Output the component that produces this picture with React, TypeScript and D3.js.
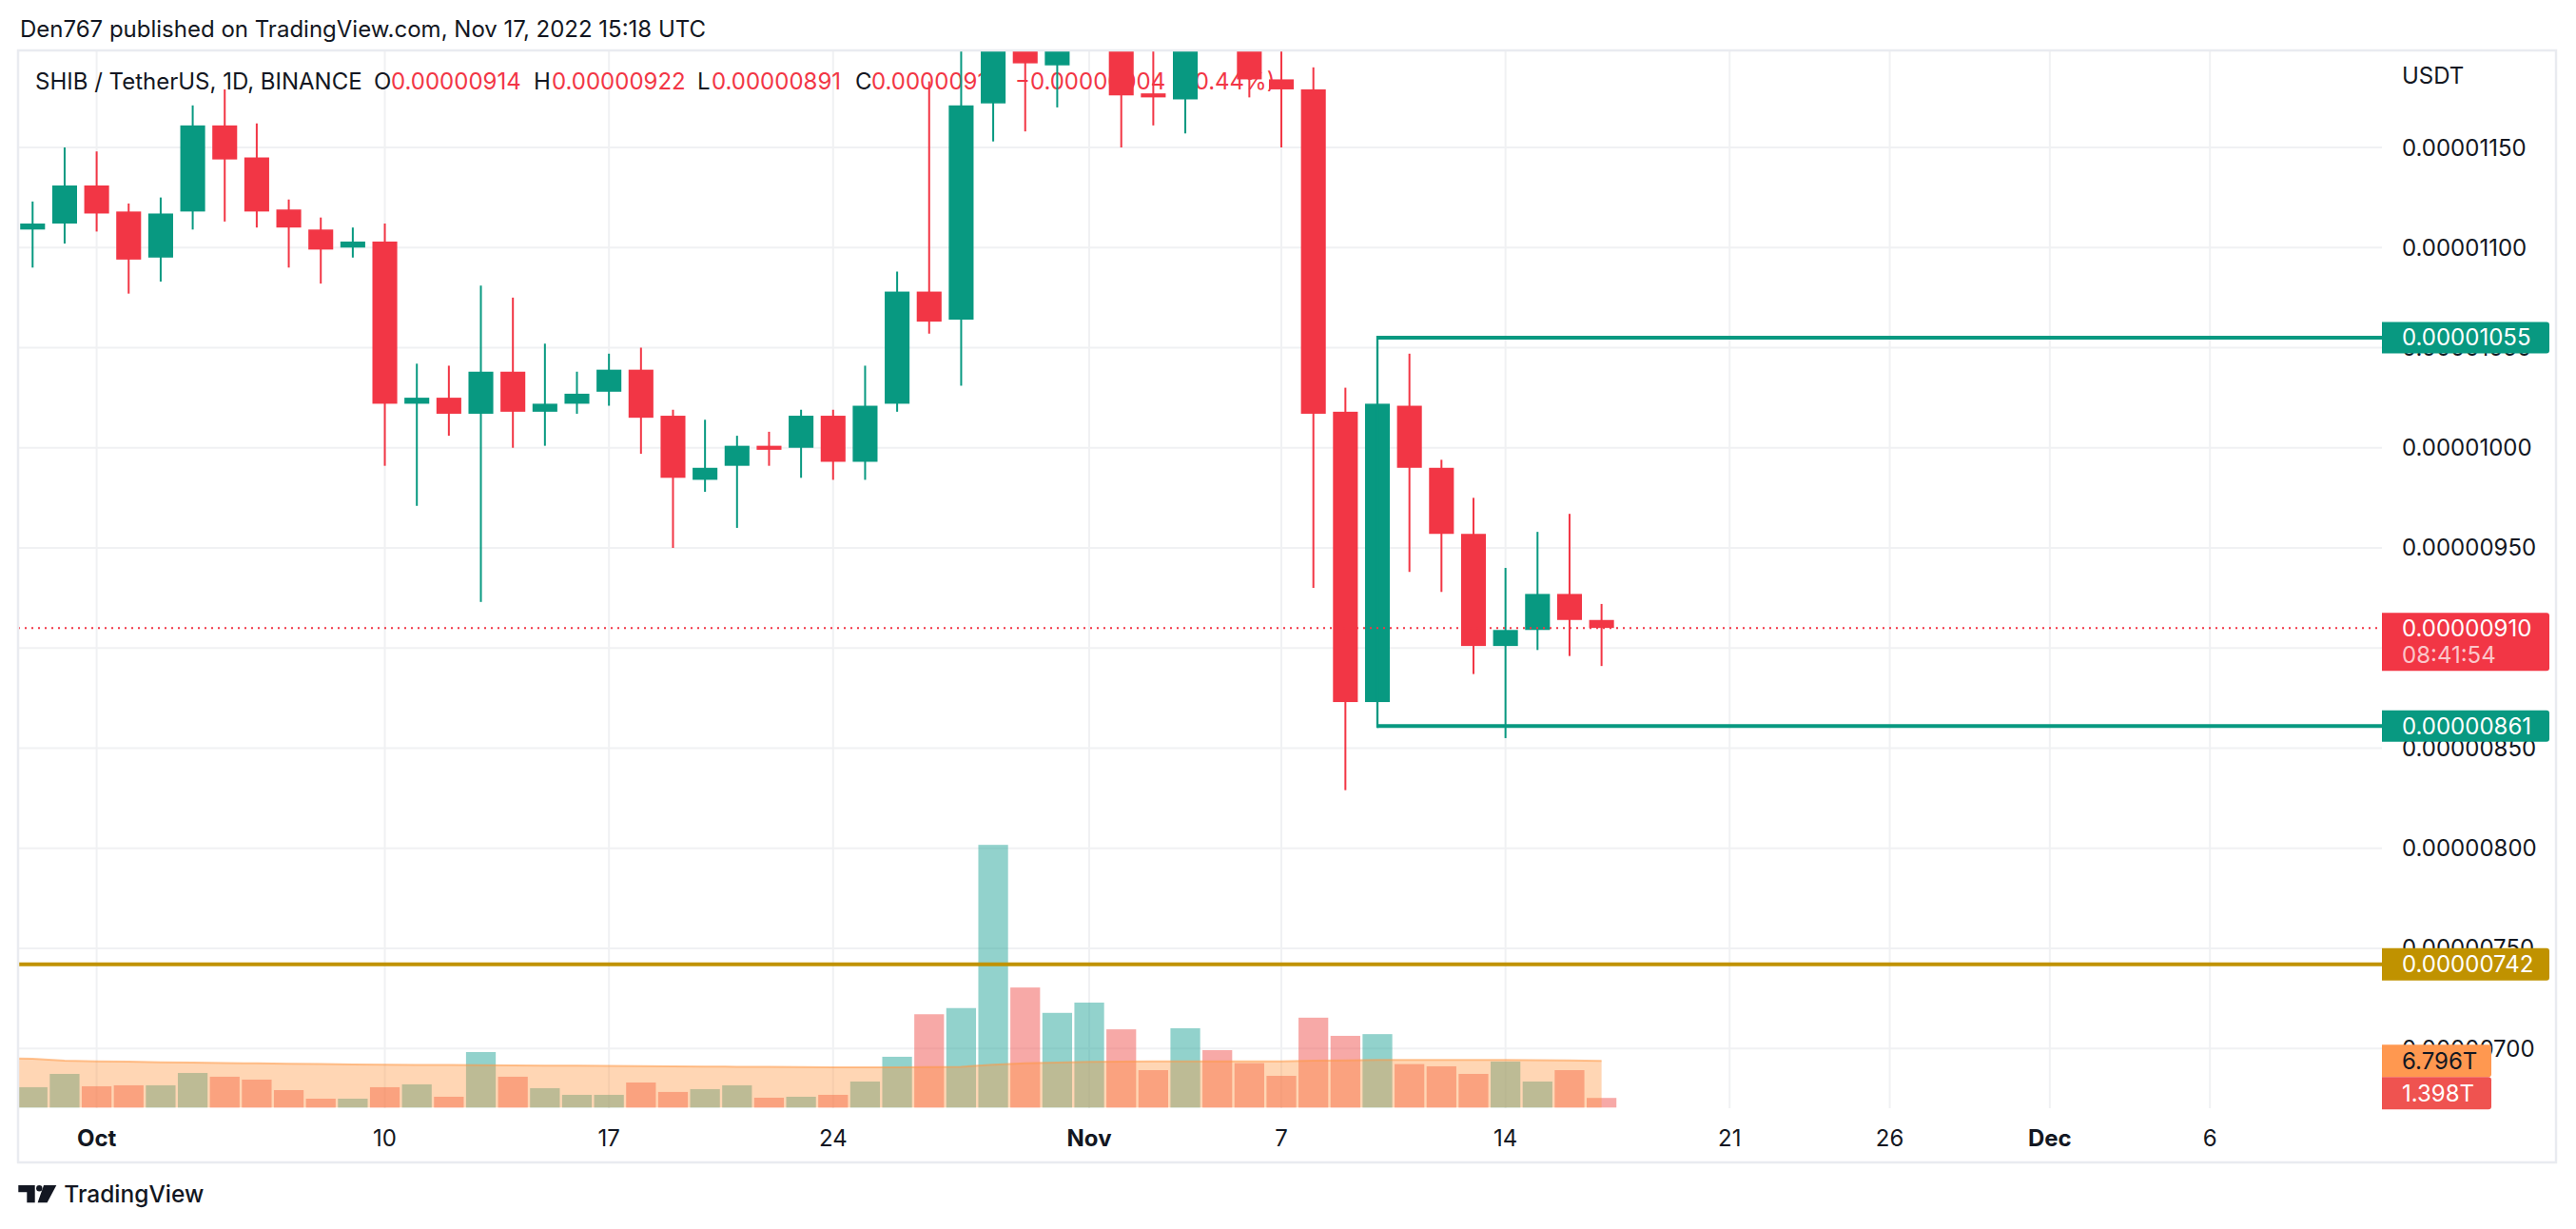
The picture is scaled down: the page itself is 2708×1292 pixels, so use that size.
import React from 'react';
import * as d3 from 'd3';

// ---------- DATA ----------
const PRICE_UNIT = 1e-8; // prices below are in 0.00000001 USDT

const candleDates = [
  '2022-09-29', '2022-09-30',
  '2022-10-01', '2022-10-02', '2022-10-03', '2022-10-04', '2022-10-05', '2022-10-06', '2022-10-07', '2022-10-08',
  '2022-10-09', '2022-10-10', '2022-10-11', '2022-10-12', '2022-10-13', '2022-10-14', '2022-10-15', '2022-10-16',
  '2022-10-17', '2022-10-18', '2022-10-19', '2022-10-20', '2022-10-21', '2022-10-22', '2022-10-23', '2022-10-24',
  '2022-10-25', '2022-10-26', '2022-10-27', '2022-10-28', '2022-10-29', '2022-10-30', '2022-10-31',
  '2022-11-01', '2022-11-02', '2022-11-03', '2022-11-04', '2022-11-05', '2022-11-06', '2022-11-07', '2022-11-08',
  '2022-11-09', '2022-11-10', '2022-11-11', '2022-11-12', '2022-11-13', '2022-11-14', '2022-11-15', '2022-11-16',
  '2022-11-17',
];

const openPrices = [
  1109, 1112, 1131, 1118, 1095, 1118, 1161, 1145, 1119, 1109, 1100, 1103, 1022, 1025, 1017, 1038, 1018, 1022,
  1028, 1039, 1016, 984, 991, 1001, 1000, 1016, 993, 1022, 1078, 1064, 1172, 1225, 1191, 1215, 1225, 1177, 1174,
  1240, 1235, 1184, 1179, 1018, 873, 1021, 990, 957, 901, 909, 927, 914,
];
const highPrices = [
  1123, 1150, 1148, 1122, 1125, 1171, 1179, 1162, 1124, 1115, 1110, 1112, 1042, 1041, 1081, 1075, 1052, 1038,
  1047, 1050, 1019, 1014, 1006, 1008, 1019, 1019, 1041, 1088, 1183, 1215, 1260, 1235, 1225, 1260, 1240, 1205, 1280,
  1260, 1245, 1205, 1190, 1030, 1040, 1047, 994, 975, 940, 958, 967, 922,
];
const lowPrices = [
  1090, 1102, 1108, 1077, 1083, 1109, 1113, 1110, 1090, 1082, 1095, 991, 971, 1006, 923, 1000, 1001, 1017,
  1021, 997, 950, 978, 960, 991, 985, 984, 984, 1018, 1057, 1031, 1153, 1158, 1170, 1205, 1150, 1161, 1157,
  1215, 1175, 1150, 930, 829, 866, 938, 928, 887, 855, 899, 896, 891,
];
const closePrices = [
  1112, 1131, 1117, 1094, 1117, 1161, 1144, 1118, 1110, 1099, 1103, 1022, 1025, 1017, 1038, 1018, 1022, 1027,
  1039, 1015, 985, 990, 1001, 999, 1016, 993, 1021, 1078, 1063, 1171, 1225, 1192, 1215, 1225, 1176, 1175, 1240,
  1235, 1184, 1179, 1017, 873, 1022, 990, 957, 901, 909, 927, 914, 910,
];

// volume, in trillions (T)
const volumesT = [
  2.96, 4.9, 3.1, 3.24, 3.24, 5.04, 4.49, 4.07, 2.54, 1.29, 1.29, 2.96, 3.38, 1.57, 8.09, 4.49, 2.82, 1.85,
  1.85, 3.65, 2.27, 2.68, 3.24, 1.43, 1.57, 1.85, 3.79, 7.4, 13.6, 14.5, 38.3, 17.5, 13.8, 15.3, 11.4, 5.45,
  11.56, 8.37, 6.47, 4.62, 13.1, 10.45, 10.7, 6.33, 6.01, 4.9, 6.7, 3.79, 5.45, 1.398,
];

// volume moving average (T), starting one day before the first visible candle
const volumeMAStart = '2022-09-28';
const volumeMA = [
  7.2, 7.1, 6.85, 6.75, 6.7, 6.6, 6.55, 6.5, 6.45, 6.4, 6.35, 6.3, 6.25, 6.22, 6.2, 6.18, 6.15, 6.12, 6.1,
  6.06, 6.03, 6.0, 5.97, 5.95, 5.92, 5.9, 5.87, 5.87, 5.86, 5.9, 5.95, 6.25, 6.45, 6.55, 6.65, 6.7, 6.75,
  6.75, 6.75, 6.75, 6.75, 6.84, 6.88, 6.93, 6.93, 6.93, 6.93, 6.93, 6.92, 6.88, 6.796,
];

const priceTicks = [700, 750, 800, 850, 900, 950, 1000, 1050, 1100, 1150];
const timeTickDates = [
  '2022-10-01', '2022-10-10', '2022-10-17', '2022-10-24', '2022-11-01', '2022-11-07', '2022-11-14',
  '2022-11-21', '2022-11-26', '2022-12-01', '2022-12-06',
];
const timeTickLabels = ['Oct', '10', '17', '24', 'Nov', '7', '14', '21', '26', 'Dec', '6'];
const timeTickIsMonth = [true, false, false, false, true, false, false, false, false, true, false];

const resistanceLevel = 1055;
const supportLevel = 861;
const goldLevel = 742;
const bracketStart = '2022-11-10';
const lastPrice = 910;
const countdown = '08:41:54';
const lastVolumeLabel = '1.398T';
const volumeMALabel = '6.796T';

const headerText = 'Den767 published on TradingView.com, Nov 17, 2022 15:18 UTC';
const symbolText = 'SHIB / TetherUS, 1D, BINANCE';
const changeText = '\u22120.00000004';
const changePctText = '(\u22120.44%)';

// ---------- LAYOUT ----------
const W = 2708;
const H = 1292;
const plotL = 19;
const plotT = 53;
const plotR = 2504;
const plotB = 1165;
const frameR = 2687;
const frameB = 1222;

const GREEN = '#089981';
const RED = '#f23645';
const GOLD = '#c09200';
const TEXT = '#131722';
const GRID = '#f0f1f3';
const FONT = 'Inter, "Noto Sans", sans-serif';

const parse = d3.utcParse('%Y-%m-%d');
const x = d3.scaleUtc()
  .domain([parse('2022-10-01')!, parse('2022-12-06')!])
  .range([101.6, 101.6 + 66 * 33.66]);
const y = d3.scaleLinear()
  .domain([700 * PRICE_UNIT, 1150 * PRICE_UNIT])
  .range([1102.2, 155]);
const vy = d3.scaleLinear().domain([0, 40]).range([1164.3, 1164.3 - 40 * 7.21]);

const fmt = d3.format('.8f');

const candles = candleDates.map((d, i) => ({
  date: parse(d)!,
  o: openPrices[i] * PRICE_UNIT,
  h: highPrices[i] * PRICE_UNIT,
  l: lowPrices[i] * PRICE_UNIT,
  c: closePrices[i] * PRICE_UNIT,
  v: volumesT[i],
}));

const maStart = parse(volumeMAStart)!;
const maPoints = volumeMA.map((v, i) => ({ date: d3.utcDay.offset(maStart, i), v }));

function rightRoundBox(x0: number, y0: number, x1: number, y1: number, r: number) {
  return `M${x0},${y0} H${x1 - r} Q${x1},${y0} ${x1},${y0 + r} V${y1 - r} Q${x1},${y1} ${x1 - r},${y1} H${x0} Z`;
}

export default function App() {
  const dayW = x(parse('2022-10-02')!) - x(parse('2022-10-01')!);
  const bodyW = dayW * 0.775;
  const volW = dayW * 0.928;

  const maArea = d3.area<{ date: Date; v: number }>()
    .x((d) => x(d.date))
    .y0(vy(0))
    .y1((d) => vy(d.v));
  const maLine = d3.line<{ date: Date; v: number }>()
    .x((d) => x(d.date))
    .y((d) => vy(d.v));

  const bx = x(parse(bracketStart)!);
  const yRes = y(resistanceLevel * PRICE_UNIT);
  const ySup = y(supportLevel * PRICE_UNIT);
  const yGold = y(goldLevel * PRICE_UNIT);
  const yLast = y(lastPrice * PRICE_UNIT);
  const yMA = vy(volumeMA[volumeMA.length - 1]);

  const last = candles[candles.length - 1];

  const labelX = 2525;
  const boxL = plotR;
  const boxR = 2680;
  const volBoxR = 2619;

  return (
    <svg width={W} height={H} viewBox={`0 0 ${W} ${H}`}
      style={{ position: 'absolute', left: 0, top: 0, display: 'block', background: '#fff' }}
      fontFamily={FONT}>
      <defs>
        <clipPath id="plot">
          <rect x={plotL} y={plotT} width={plotR - plotL} height={plotB - plotT} />
        </clipPath>
      </defs>
      <rect x={0} y={0} width={W} height={H} fill="#fff" />

      <text x={21} y={39} fontSize={24} fill={TEXT}>{headerText}</text>

      {/* grid */}
      <g clipPath="url(#plot)">
        {priceTicks.map((p) => (
          <line key={'h' + p} x1={plotL} x2={plotR} y1={y(p * PRICE_UNIT)} y2={y(p * PRICE_UNIT)} stroke={GRID} strokeWidth={2} />
        ))}
        {timeTickDates.map((d) => (
          <line key={'v' + d} x1={x(parse(d)!)} x2={x(parse(d)!)} y1={plotT} y2={plotB} stroke={GRID} strokeWidth={2} />
        ))}
      </g>

      {/* legend */}
      <g fontSize={24}>
        <text x={37} y={94} fill={TEXT}>{symbolText}</text>
        <text x={393} y={94} fill={TEXT}>O</text>
        <text x={411} y={94} fill={RED}>{fmt(last.o)}</text>
        <text x={561} y={94} fill={TEXT}>H</text>
        <text x={580} y={94} fill={RED}>{fmt(last.h)}</text>
        <text x={733} y={94} fill={TEXT}>L</text>
        <text x={748} y={94} fill={RED}>{fmt(last.l)}</text>
        <text x={899} y={94} fill={TEXT}>C</text>
        <text x={916} y={94} fill={RED}>{fmt(last.c)}</text>
        <text x={1067} y={94} fill={RED}>{changeText}</text>
        <text x={1231} y={94} fill={RED}>{changePctText}</text>
      </g>

      <g clipPath="url(#plot)">
        {/* volume */}
        {candles.map((d, i) => (
          <rect key={'v' + i} x={x(d.date) - volW / 2} width={volW} y={vy(d.v)} height={vy(0) - vy(d.v)}
            fill={d.c >= d.o ? 'rgba(38,166,154,0.5)' : 'rgba(239,83,80,0.5)'} />
        ))}
        <path d={maArea(maPoints)!} fill="rgba(255,152,67,0.4)" />
        <path d={maLine(maPoints)!} fill="none" stroke="rgba(255,152,67,0.55)" strokeWidth={2} />

        {/* candles */}
        {candles.map((d, i) => {
          const col = d.c >= d.o ? GREEN : RED;
          const cx = x(d.date);
          const top = y(Math.max(d.o, d.c));
          const bot = y(Math.min(d.o, d.c));
          return (
            <g key={'c' + i}>
              <rect x={cx - 1} width={2} y={y(d.h)} height={y(d.l) - y(d.h)} fill={col} />
              <rect x={cx - bodyW / 2} width={bodyW} y={top} height={Math.max(2, bot - top)} fill={col} />
            </g>
          );
        })}

        {/* drawings */}
        <line x1={plotL} x2={plotR} y1={yGold} y2={yGold} stroke={GOLD} strokeWidth={4} />
        <line x1={bx} x2={plotR} y1={yRes} y2={yRes} stroke={GREEN} strokeWidth={4} />
        <line x1={bx} x2={plotR} y1={ySup} y2={ySup} stroke={GREEN} strokeWidth={4} />
        <line x1={bx} x2={bx} y1={yRes - 2} y2={ySup + 2} stroke={GREEN} strokeWidth={2.3} />
        <line x1={plotL} x2={plotR} y1={yLast} y2={yLast} stroke={RED} strokeWidth={2} strokeDasharray="2 5" />
      </g>

      {/* price axis */}
      <g fontSize={24} fill={TEXT}>
        <text x={labelX} y={79} dominantBaseline="central">USDT</text>
        {priceTicks.map((p) => (
          <text key={'pt' + p} x={labelX} y={y(p * PRICE_UNIT)} dominantBaseline="central">{fmt(p * PRICE_UNIT)}</text>
        ))}
      </g>
      <g fontSize={24}>
        <path d={rightRoundBox(boxL, yRes - 16.5, boxR, yRes + 16.5, 3)} fill={GREEN} />
        <text x={labelX} y={yRes} dominantBaseline="central" fill="#fff">{fmt(resistanceLevel * PRICE_UNIT)}</text>

        <path d={rightRoundBox(boxL, yLast - 16, boxR, yLast + 45, 3)} fill={RED} />
        <text x={labelX} y={yLast} dominantBaseline="central" fill="#fff">{fmt(lastPrice * PRICE_UNIT)}</text>
        <text x={labelX} y={yLast + 28.5} dominantBaseline="central" fill="rgba(255,255,255,0.72)">{countdown}</text>

        <path d={rightRoundBox(boxL, ySup - 16.5, boxR, ySup + 16.5, 3)} fill={GREEN} />
        <text x={labelX} y={ySup} dominantBaseline="central" fill="#fff">{fmt(supportLevel * PRICE_UNIT)}</text>

        <path d={rightRoundBox(boxL, yGold - 17, boxR, yGold + 17, 3)} fill={GOLD} />
        <text x={labelX} y={yGold} dominantBaseline="central" fill="#fff">{fmt(goldLevel * PRICE_UNIT)}</text>

        <path d={rightRoundBox(boxL, yMA - 17, volBoxR, yMA + 17, 3)} fill="#ff9850" />
        <text x={labelX} y={yMA} dominantBaseline="central" fill={TEXT}>{volumeMALabel}</text>
        <path d={rightRoundBox(boxL, yMA + 17, volBoxR, yMA + 51, 3)} fill="#ef5350" />
        <text x={labelX} y={yMA + 34} dominantBaseline="central" fill="#fff">{lastVolumeLabel}</text>
      </g>

      {/* time axis */}
      <g fontSize={24} fill={TEXT}>
        {timeTickDates.map((d, i) => (
          <text key={'tt' + d} x={x(parse(d)!)} y={1196} textAnchor="middle" dominantBaseline="central"
            fontWeight={timeTickIsMonth[i] ? 700 : 400}>{timeTickLabels[i]}</text>
        ))}
      </g>

      {/* frame */}
      <rect x={plotL} y={plotT} width={frameR - plotL} height={frameB - plotT} fill="none" stroke="#e9ebf0" strokeWidth={2.5} />

      {/* logo */}
      <g fill={TEXT}>
        <path d="M19.3,1246 H36.7 V1264.3 H28.3 V1253.3 H19.3 Z" />
        <circle cx={41.3} cy={1249.2} r={3.2} />
        <path d="M46,1246 H59.3 L49.6,1264.3 H39.6 Z" />
        <text x={67.3} y={1264.3} fontSize={24.5} fontWeight={500}>TradingView</text>
      </g>
    </svg>
  );
}
